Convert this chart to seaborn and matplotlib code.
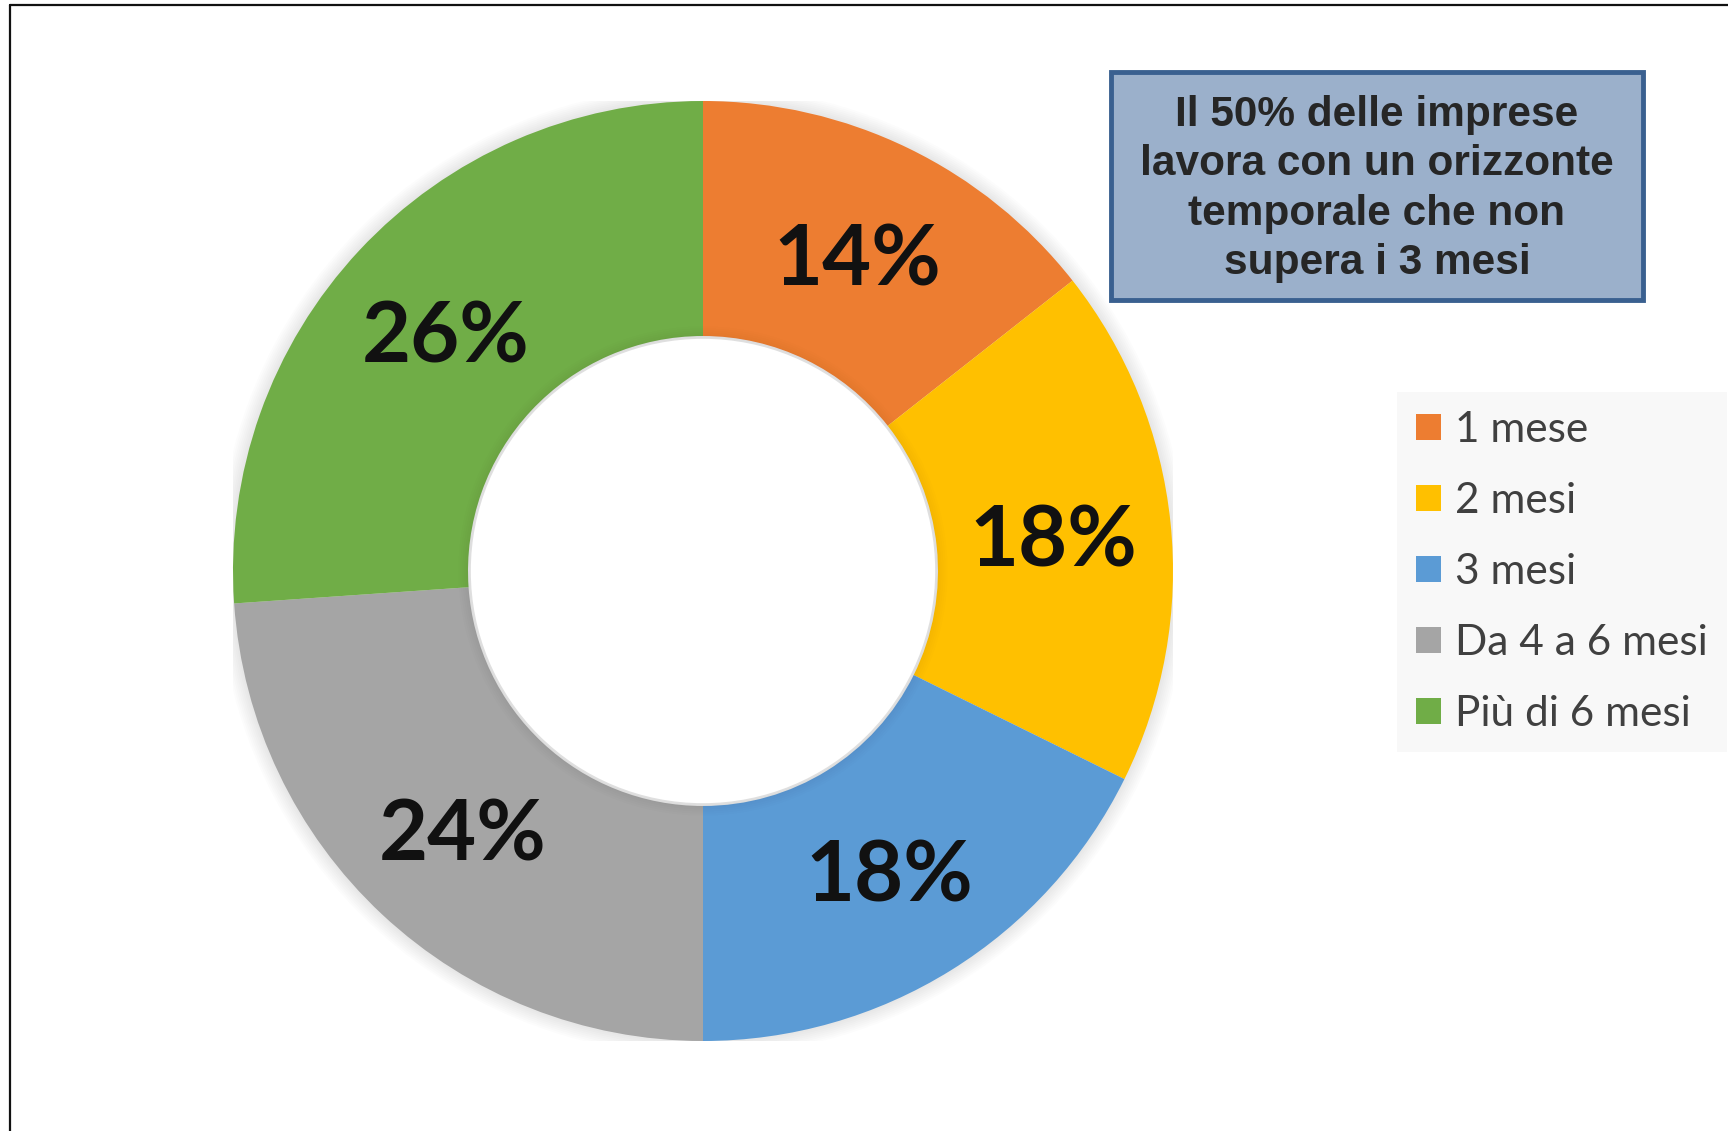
import matplotlib
matplotlib.use('Agg')
import matplotlib.pyplot as plt
import seaborn as sns
from matplotlib.patches import Rectangle, Circle, Patch
from matplotlib.lines import Line2D

# dati
categorie = ['1 mese', '2 mesi', '3 mesi', 'Da 4 a 6 mesi', 'Più di 6 mesi']
valori = [14.4, 17.9, 17.7, 23.9, 26.1]
colori = ['#ED7D31', '#FFC000', '#5B9BD5', '#A5A5A5', '#70AD47']
nota = 'Il 50% delle imprese\nlavora con un orizzonte\ntemporale che non\nsupera i 3 mesi'

sns.set_theme(style='white')
plt.rcParams['font.family'] = ['Lato', 'DejaVu Sans']

W, H = 1728, 1131
fig = plt.figure(figsize=(W / 100, H / 100), dpi=100)
fig.patch.set_facecolor('white')

# asse quadrato per la ciambella: centro (703, 571), raggio 470 px
cx, cy, R = 703, 571, 470
ax = fig.add_axes([(cx - R) / W, (H - cy - R) / H, 2 * R / W, 2 * R / H])

# ombra morbida attorno all'anello
for k in range(8):
    ax.add_patch(Circle((0, 0), 1.0 + 0.004 * (k + 1), color='#000000', alpha=0.01, lw=0, zorder=0))

pal = sns.color_palette(colori)
wedges, testi = ax.pie(
    valori,
    colors=pal,
    startangle=90,
    counterclock=False,
    radius=1.0,
    wedgeprops=dict(width=0.5, edgecolor='none'),
    labels=[f'{v:.0f}%' for v in valori],
    labeldistance=0.75,
    textprops=dict(fontsize=61, fontweight='bold', color='#111111'),
)
for t in testi:
    t.set_ha('center')
    t.set_va('center_baseline')

# ombra interna del foro, molto leggera
for k in range(5):
    ax.add_patch(Circle((0, 0), 0.5, fill=False, ec='#000000', alpha=0.008, lw=2 + 3 * k, zorder=3))
ax.add_patch(Circle((0, 0), 0.5 - 0.006, color='white', lw=0, zorder=4))

ax.set_xlim(-1, 1)
ax.set_ylim(-1, 1)
ax.set_aspect('equal')
ax.axis('off')

# riquadro con la nota
x0, y0, x1, y1 = 1111, 72, 1643, 300
fig.add_artist(Rectangle((x0 / W, 1 - y1 / H), (x1 - x0) / W, (y1 - y0) / H,
                         transform=fig.transFigure, facecolor='#9BB0CB',
                         edgecolor='#3A6090', linewidth=3.5))
fig.text((x0 + x1) / 2 / W, 1 - 189 / H, nota, ha='center', va='center',
         fontsize=30.5, fontweight='bold', color='#262626',
         family=['Liberation Sans', 'DejaVu Sans'], linespacing=1.3)

# legenda
maniglie = [Patch(facecolor=c, edgecolor='none') for c in colori]
leg = fig.legend(maniglie, categorie, loc='upper left',
                 bbox_to_anchor=(1397 / W, 1 - 392 / H), borderaxespad=0,
                 frameon=True, fancybox=False, facecolor='#F8F8F8', edgecolor='none',
                 fontsize=30.5, handlelength=0.58, handleheight=0.58, handletextpad=0.35,
                 labelspacing=0.78, borderpad=0.45)
for t in leg.get_texts():
    t.set_color('#404040')
leg.get_frame().set_alpha(1)

# cornice (solo bordo sinistro e superiore visibili)
fig.add_artist(Line2D([10 / W, 10 / W], [0, 1 - 5 / H], transform=fig.transFigure, color='#111111', lw=1.6))
fig.add_artist(Line2D([10 / W, 1], [1 - 5 / H, 1 - 5 / H], transform=fig.transFigure, color='#111111', lw=1.6))

fig.savefig('out.png', dpi=100, facecolor='white')
